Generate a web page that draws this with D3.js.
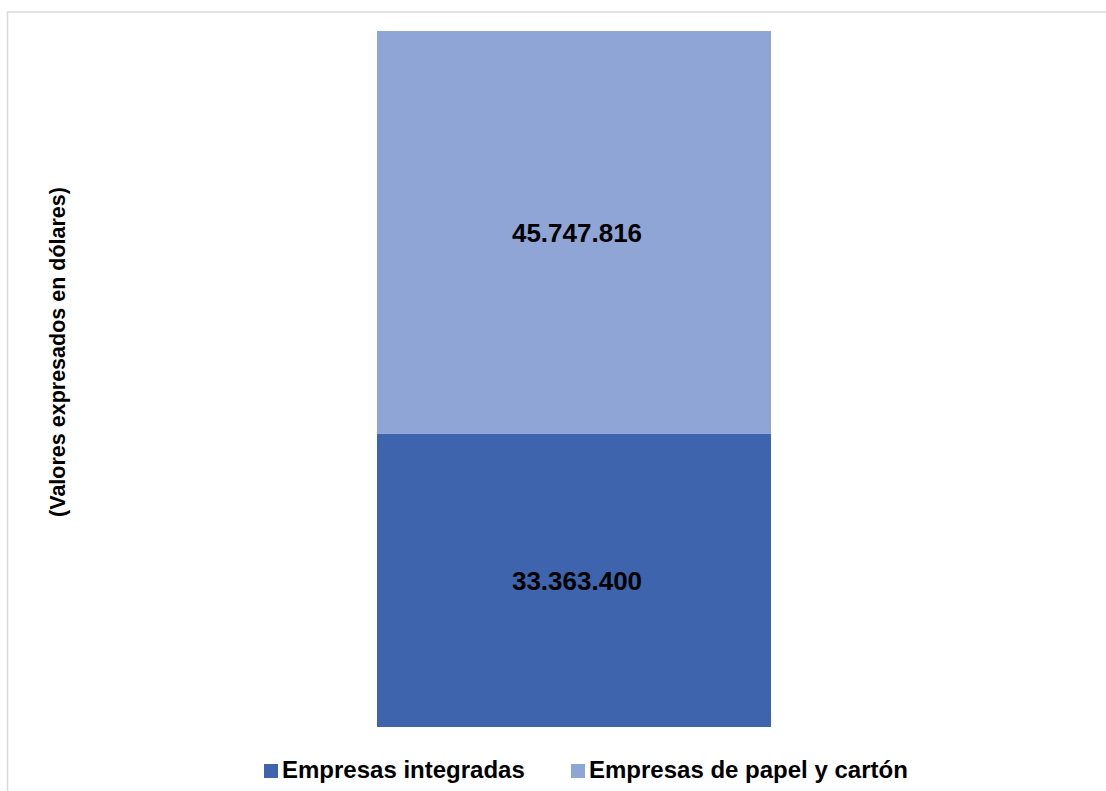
<!DOCTYPE html>
<html>
<head>
<meta charset="utf-8">
<script src="https://cdn.jsdelivr.net/npm/d3@7"></script>
<style>
  html, body { margin: 0; padding: 0; background: #fff; }
  svg { display: block; font-family: "Liberation Sans", Arial, sans-serif; }
</style>
</head>
<body>
<svg width="1106" height="791"></svg>
<script>
// data
var categories = ["Total"];
var seriesNames = ["Empresas integradas", "Empresas de papel y cartón"];
var seriesValues = [[33363400], [45747816]];
var seriesColors = ["#3d64ad", "#8fa5d5"];
var yTitle = "(Valores expresados en dólares)";

var svg = d3.select("svg");

// chart frame
svg.append("rect")
  .attr("x", 7.5).attr("y", 12)
  .attr("width", 1120).attr("height", 800)
  .attr("fill", "none")
  .attr("stroke", "#d9d9d9")
  .attr("stroke-width", 1.5);

// stack the series
var rows = categories.map(function (c, i) {
  var row = { cat: c };
  seriesNames.forEach(function (s, j) { row[s] = seriesValues[j][i]; });
  return row;
});
var stacked = d3.stack().keys(seriesNames)(rows);

var total = d3.max(stacked[stacked.length - 1], function (d) { return d[1]; });

var xScale = d3.scaleBand().domain(categories).range([377, 771]).padding(0);
var yScale = d3.scaleLinear().domain([0, total]).range([727, 31]);

var fmt = d3.formatLocale({ decimal: ",", thousands: ".", grouping: [3], currency: ["$", ""] }).format(",d");

var layer = svg.selectAll("g.layer").data(stacked).enter().append("g")
  .attr("class", "layer")
  .attr("fill", function (d, i) { return seriesColors[i]; });

layer.selectAll("rect").data(function (d) { return d; }).enter().append("rect")
  .attr("x", function (d) { return xScale(d.data.cat); })
  .attr("width", xScale.bandwidth())
  .attr("y", function (d) { return yScale(d[1]); })
  .attr("height", function (d) { return yScale(d[0]) - yScale(d[1]); });

// value labels
layer.selectAll("text").data(function (d) { return d; }).enter().append("text")
  .attr("x", function (d) { return xScale(d.data.cat) + xScale.bandwidth() / 2 + 3; })
  .attr("y", function (d) { return (yScale(d[0]) + yScale(d[1])) / 2; })
  .attr("dy", "0.36em")
  .attr("text-anchor", "middle")
  .attr("fill", "#000")
  .attr("font-weight", "bold")
  .attr("font-size", 26)
  .text(function (d) { return fmt(d[1] - d[0]); });

// y axis title
svg.append("text")
  .attr("transform", "translate(57," + ((yScale(0) + yScale(total)) / 2 - 27) + ") rotate(-90)")
  .attr("dy", "0.36em")
  .attr("text-anchor", "middle")
  .attr("font-weight", "bold")
  .attr("font-size", 21.5)
  .attr("fill", "#000")
  .text(yTitle);

// legend
var legendX = [264, 571];
var legend = svg.selectAll("g.legend").data(seriesNames).enter().append("g")
  .attr("class", "legend")
  .attr("transform", function (d, i) { return "translate(" + legendX[i] + ",778)"; });

legend.append("rect")
  .attr("x", 0).attr("y", -14)
  .attr("width", 14).attr("height", 14)
  .attr("fill", function (d, i) { return seriesColors[i]; });

legend.append("text")
  .attr("x", 18)
  .attr("y", 0)
  .attr("font-weight", "bold")
  .attr("font-size", 24)
  .attr("fill", "#000")
  .text(function (d) { return d; });
</script>
</body>
</html>
